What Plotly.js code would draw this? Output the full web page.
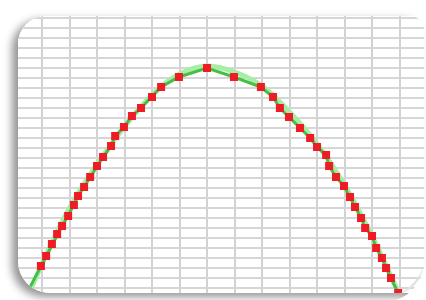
<!DOCTYPE html>
<html>
<head>
<meta charset="utf-8">
<script src="https://cdn.plot.ly/plotly-3.0.1.min.js"></script>
<style>
  html, body { margin: 0; padding: 0; width: 426px; height: 300px; overflow: hidden; background: #ffffff; }
  #card {
    position: absolute; left: 18px; top: 16px; width: 406px; height: 277px;
    border-radius: 28px 14px 0 32px; overflow: hidden; background: #ffffff;
    box-shadow: -6px 4px 9px rgba(0,0,0,0.42);
  }
  #chart { position: absolute; left: 0; top: 0; width: 406px; height: 277px; }
  #curl { position: absolute; left: 0; top: 0; width: 426px; height: 300px; pointer-events: none; }
</style>
</head>
<body>
<div id="card"><div id="chart"></div></div>
<svg id="curl" width="426" height="300">
  <defs>
    <linearGradient id="g" x1="0" y1="0" x2="1" y2="1">
      <stop offset="0" stop-color="#ffffff"/>
      <stop offset="0.55" stop-color="#e6e6e6"/>
      <stop offset="1" stop-color="#b9b9b9"/>
    </linearGradient>
  </defs>
  <path d="M 396 300 Q 420 292 426 262 L 426 300 Z" fill="#ffffff"/>
  <path d="M 400 294 Q 419 288 424 266 Q 418 282 400 294 Z" fill="url(#g)"/>
</svg>
<script>
// smooth curve (light green)
const curveX = [0.5, 2.0, 3.5, 5.0, 6.0, 7.0, 8.0, 9.0, 10.0, 11.0, 12.0, 13.0, 14.0];
const curveY = [0.3, 9.0, 15.3, 20.3, 22.4, 23.2, 22.6, 21.2, 18.6, 15.4, 11.3, 6.2, 0.3];

// sampled points (red squares joined by a green line)
const pointX = [0.96, 1.15, 1.36, 1.55, 1.73, 1.95, 2.16, 2.31, 2.53, 2.75, 3.0, 3.22, 3.51, 3.66, 3.98, 4.27, 4.6, 5.0, 5.33, 5.98, 7.0,
                7.98, 8.96, 9.4, 9.65, 9.98, 10.38, 10.75, 11.0, 11.33, 11.44, 11.69, 11.98, 12.2, 12.38, 12.6, 12.75, 13.0, 13.15, 13.36, 13.51, 13.69, 13.95];
const pointY = [3.2, 4.2, 5.4, 6.4, 7.2, 8.2, 9.3, 10.2, 11.1, 12.1, 13.2, 14.1, 15.2, 16.2, 17.1, 18.2, 19.0, 20.1, 21.1, 22.1, 23.0,
                22.1, 21.1, 20.1, 19.0, 18.1, 17.0, 16.0, 15.1, 14.3, 13.2, 12.1, 11.2, 10.1, 9.1, 8.0, 7.0, 6.2, 5.0, 4.0, 3.0, 2.0, 0.5];

const traces = [
  { x: curveX, y: curveY, mode: 'lines', line: { color: '#a6eea6', width: 5, shape: 'spline', smoothing: 1.0 }, hoverinfo: 'skip' },
  { x: [0.3, ...pointX], y: [-0.3, ...pointY], mode: 'lines', line: { color: '#45bf45', width: 3 }, hoverinfo: 'skip' },
  { x: pointX, y: pointY, mode: 'markers', marker: { symbol: 'square', size: 8, color: '#ee1c24' } }
];

const layout = {
  width: 406, height: 277,
  margin: { l: 0, r: 0, t: 0, b: 0, pad: 0 },
  paper_bgcolor: '#ffffff', plot_bgcolor: '#ffffff',
  showlegend: false,
  xaxis: { range: [0.127, 14.89], dtick: 1, tick0: 0, showgrid: true, gridcolor: '#d2d2d2', gridwidth: 2,
           zeroline: false, showticklabels: false, ticks: '', showline: false, fixedrange: true },
  yaxis: { range: [0.5, 28.2], dtick: 1, tick0: 0, showgrid: true, gridcolor: '#d6d6d6', gridwidth: 2,
           zeroline: false, showticklabels: false, ticks: '', showline: false, fixedrange: true }
};

Plotly.newPlot('chart', traces, layout, { displayModeBar: false, staticPlot: true });
</script>
</body>
</html>
